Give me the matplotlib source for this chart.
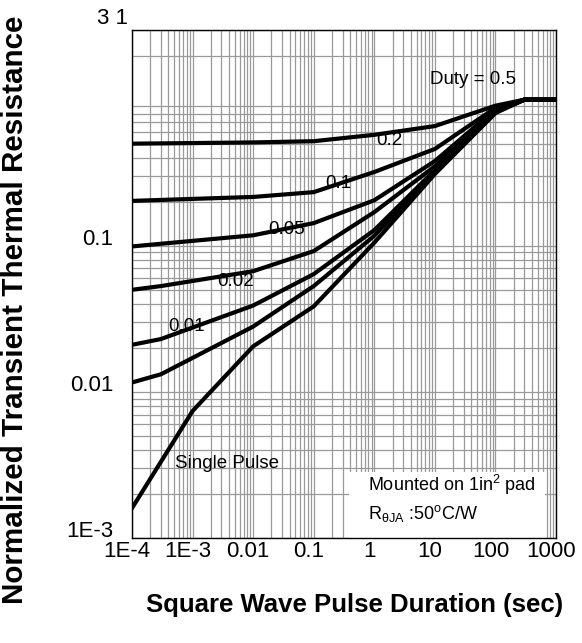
import matplotlib
matplotlib.use("Agg")
import matplotlib.pyplot as plt
import matplotlib.transforms as mtransforms
from matplotlib.ticker import LogLocator, NullFormatter

plt.rcParams['font.family'] = ['Liberation Sans', 'DejaVu Sans']
plt.rcParams['mathtext.fontset'] = 'custom'
plt.rcParams['mathtext.rm'] = 'Liberation Sans'
plt.rcParams['mathtext.it'] = 'Liberation Sans'
plt.rcParams['mathtext.bf'] = 'Liberation Sans:bold'

# ---- data ----
t_hi = [1e-4, 1e-2, 0.1, 1, 10, 100, 300, 1000]
t_mid = [1e-4, 3e-4, 1e-2, 0.1, 1, 10, 100, 300, 1000]
t_single = [1e-4, 1e-3, 1e-2, 0.1, 1, 10, 100, 300, 1000]

z_d050 = [0.50, 0.51, 0.52, 0.575, 0.66, 0.91, 1.0, 1.0]
z_d020 = [0.203, 0.216, 0.233, 0.32, 0.46, 0.88, 1.0, 1.0]
z_d010 = [0.099, 0.118, 0.143, 0.205, 0.38, 0.86, 1.0, 1.0]
z_d005 = [0.050, 0.053, 0.067, 0.092, 0.17, 0.35, 0.84, 1.0, 1.0]
z_d002 = [0.021, 0.023, 0.039, 0.064, 0.128, 0.33, 0.83, 1.0, 1.0]
z_d001 = [0.0116, 0.0132, 0.028, 0.053, 0.117, 0.32, 0.82, 1.0, 1.0]
z_single = [0.0016, 0.0074, 0.0205, 0.0385, 0.105, 0.31, 0.81, 1.0, 1.0]

xticks = [1e-4, 1e-3, 1e-2, 0.1, 1, 10, 100, 1000]
xticklabels = ['1E-4', '1E-3', '0.01', '0.1', '1', '10', '100', '1000']
yticks = [1e-3, 1e-2, 1e-1]
yticklabels = ['1E-3', '0.01', '0.1']

curve_labels = ['Duty = 0.5', '0.2', '0.1', '0.05', '0.02', '0.01', 'Single Pulse']

# ---- figure ----
W, H = 582, 643
fig = plt.figure(figsize=(W / 100, H / 100), dpi=100)
ax = fig.add_axes([132 / W, 1 - 538 / H, 424 / W, 508 / H])
ax.set_xscale('log')
ax.set_yscale('log')
ax.set_xlim(1e-4, 1000)
ax.set_ylim(1e-3, 3)

ax.xaxis.set_minor_locator(LogLocator(base=10, subs=range(2, 10), numticks=50))
ax.yaxis.set_minor_locator(LogLocator(base=10, subs=range(2, 10), numticks=50))
ax.xaxis.set_minor_formatter(NullFormatter())
ax.yaxis.set_minor_formatter(NullFormatter())
ax.grid(True, which='both', color='#999999', linewidth=0.9)
ax.set_axisbelow(True)

lw = 3.0
for t, z in [(t_hi, z_d050), (t_hi, z_d020), (t_hi, z_d010),
             (t_mid, z_d005), (t_mid, z_d002), (t_mid, z_d001),
             (t_single, z_single)]:
    ax.plot(t, z, color='black', linewidth=lw, solid_joinstyle='miter', zorder=3)

ax.set_xticks(xticks)
ax.set_xticklabels(xticklabels)
ax.set_yticks(yticks)
ax.set_yticklabels(yticklabels)
ax.tick_params(which='major', length=0, labelsize=16, pad=2)
ax.tick_params(axis='y', which='major', pad=13.5)
ax.tick_params(which='minor', length=0)
for s in ax.spines.values():
    s.set_color('black')
    s.set_linewidth(1.0)

# small offsets of tick labels as in the reference
for lab in ax.get_yticklabels():
    lab.set_transform(lab.get_transform() + mtransforms.ScaledTranslation(0, 9 / 100, fig.dpi_scale_trans))
for lab in ax.get_xticklabels():
    lab.set_transform(lab.get_transform() + mtransforms.ScaledTranslation(-5 / 100, 0, fig.dpi_scale_trans))

# top-left corner label
ax.text(-4 / 424, 1 + 11 / 508, '3 1', transform=ax.transAxes, ha='right', va='center', fontsize=16)


def axpos(px, py):
    return ((px - 132) / 424, 1 - (py - 30) / 508)

label_pos = [(430, 80), (376, 140), (325, 183), (268, 230), (217, 282), (168, 327), (175, 463)]
for txt, (px, py) in zip(curve_labels, label_pos):
    x, y = axpos(px, py)
    ax.text(x, y, txt, transform=ax.transAxes, ha='left', va='center', fontsize=13.5, zorder=4)

# note box
bx0, by0 = axpos(349, 538)
bx1, by1 = axpos(545, 472)
ax.add_patch(plt.Rectangle((bx0, by0), bx1 - bx0, by1 - by0, transform=ax.transAxes,
                           facecolor='white', edgecolor='none', zorder=2))
x, y = axpos(368, 485)
ax.text(x, y, r'Mounted on 1in$^\mathrm{2}$ pad', transform=ax.transAxes, ha='left', va='center',
        fontsize=13, zorder=4)
x, y = axpos(368, 513)
ax.text(x, y, r'R$_\mathrm{\theta JA}$ :50$^\mathrm{o}$C/W', transform=ax.transAxes, ha='left',
        va='center', fontsize=13, zorder=4)

fig.text(355 / W, 1 - 605 / H, 'Square Wave Pulse Duration (sec)', ha='center', va='center',
         fontsize=18.5, fontweight='bold')
fig.text(15 / W, 1 - 310 / H, 'Normalized Transient Thermal Resistance', ha='center', va='center',
         rotation=90, fontsize=21.3, fontweight='bold')

fig.savefig('out.png', dpi=100)
